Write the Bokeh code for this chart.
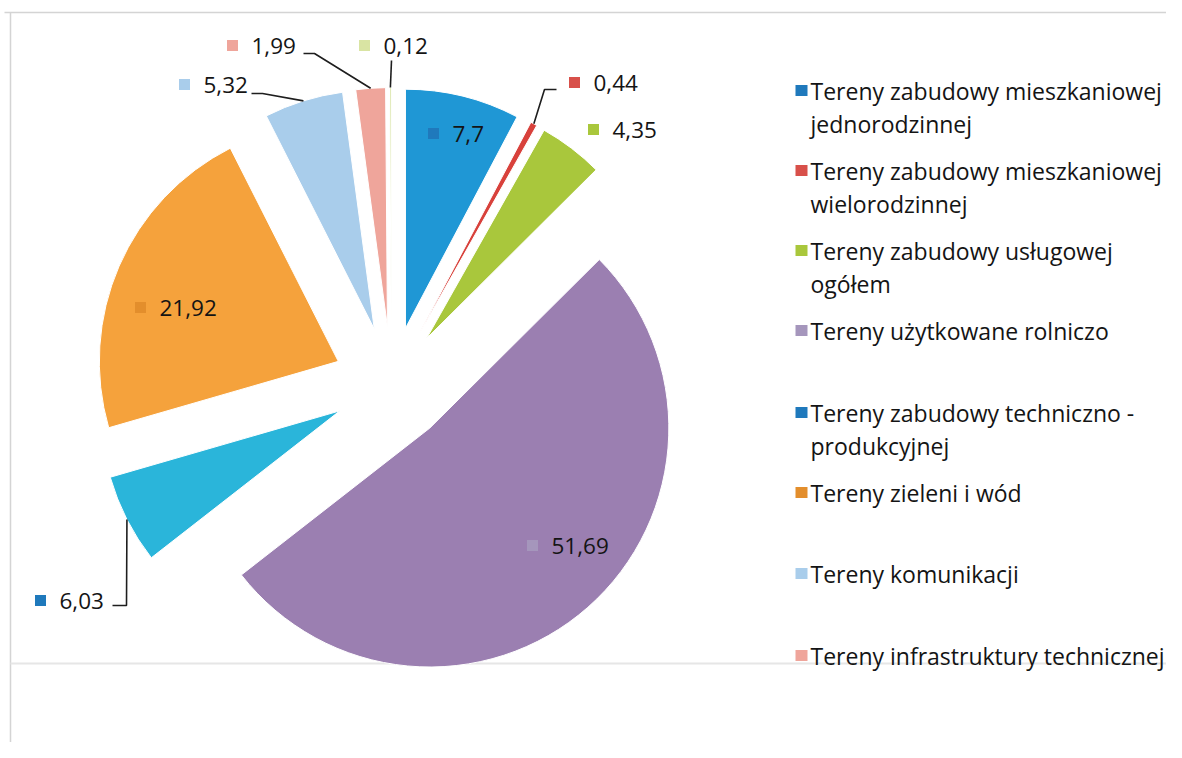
import math
from bokeh.plotting import figure
from bokeh.models import Range1d
from bokeh.core.properties import value
from bokeh.embed import file_html
from bokeh.resources import INLINE

# ---- data ----
categories = [
    "Tereny zabudowy mieszkaniowej\njednorodzinnej",
    "Tereny zabudowy mieszkaniowej\nwielorodzinnej",
    "Tereny zabudowy usługowej\nogółem",
    "Tereny użytkowane rolniczo",
    "Tereny zabudowy techniczno -\nprodukcyjnej",
    "Tereny zieleni i wód",
    "Tereny komunikacji",
    "Tereny infrastruktury technicznej",
    "Inne",
]
values = [7.7, 0.44, 4.35, 51.69, 6.03, 21.92, 5.32, 1.99, 0.12]
legend_count = 8  # the ninth legend entry is cut off in the original

# ---- style ----
colors = ["#1F97D5", "#D8413B", "#A9C73C", "#9B7FB1", "#2AB5DA",
          "#F5A23C", "#A9CDEB", "#EFA59B", "#D9E4A3"]
key_colors = ["#1F79BC", "#D8504A", "#A9C73C", "#A596BC", "#1F79BC",
              "#E38E2C", "#A9CDEB", "#EFA59B", "#D9E4A3"]

W, H = 1166, 742
# screen coordinates: data x = screen x, data y = -screen y
p = figure(width=W, height=H, output_backend="svg", toolbar_location=None,
           x_range=Range1d(0, W), y_range=Range1d(-H, 0),
           min_border=0, outline_line_color=None)
p.axis.visible = False
p.grid.visible = False
p.background_fill_color = "white"
p.border_fill_color = "white"

# faint chart-area frame lines of the scanned page
p.segment(x0=[4, 10, 10], y0=[-12, -12, -663], x1=[1182, 10, 1182], y1=[-12, -758, -663],
          line_color=["#d4d4d4", "#d4d4d4", "#e6e6e6"], line_width=[1.5, 1.5, 2])

# ---- exploded pie ----
cx, cy = 391, -384
radius = 239
explode = 58
total = sum(values)
cum = 0.0
wx, wy, sa, ea, mids = [], [], [], [], []
for v in values:
    a0 = math.pi / 2 - 2 * math.pi * cum / total
    a1 = math.pi / 2 - 2 * math.pi * (cum + v) / total
    m = (a0 + a1) / 2
    wx.append(cx + explode * math.cos(m))
    wy.append(cy + explode * math.sin(m))
    sa.append(a0)
    ea.append(a1)
    mids.append(m)
    cum += v

p.wedge(x=wx, y=wy, radius=radius, start_angle=sa, end_angle=ea, direction="clock",
        fill_color=colors, line_color="white", line_width=1)

# ---- data labels (positions as laid out in the original) ----
lab_x = [452, 593, 612, 551, 59, 159, 203, 251, 383]
lab_y = [133, 82, 129, 545, 600, 307, 84, 45, 45]
labels = [f"{v}".replace(".", ",") for v in values]
p.rect(x=[x - 19 for x in lab_x], y=[-y for y in lab_y], width=11, height=11,
       fill_color=key_colors, line_color=None)
p.text(x=lab_x, y=[-y for y in lab_y], text=labels, text_baseline="middle",
       text_align="left", text_font=value("Open Sans"), text_font_size="22.5px",
       text_color="#141414")

# leader lines: label anchor -> slice outer edge
leaders = {1: (556, 89), 4: (112, 605), 6: (251, 93), 7: (303, 53), 8: (391, 60)}
bend = {1: (544, 89), 4: (126, 605), 6: (262, 93), 7: (314, 53), 8: (391, 60)}
for i, (sx, sy) in leaders.items():
    ox = wx[i] + radius * math.cos(mids[i])
    oy = wy[i] + radius * math.sin(mids[i])
    bx, by = bend[i]
    p.line(x=[sx, bx, ox], y=[-sy, -by, oy], line_color="#1e1e1e", line_width=1.6)

# ---- legend ----
leg_y = [90, 170, 250, 330, 412, 492, 573, 655]
for i in range(legend_count):
    lines = categories[i].split("\n")
    p.rect(x=[801], y=[-leg_y[i]], width=12, height=11,
           fill_color=key_colors[i], line_color=None)
    p.text(x=[810] * len(lines), y=[-(leg_y[i] + 33 * k) for k in range(len(lines))],
           text=lines, text_baseline="middle", text_align="left",
           text_font=value("Open Sans"), text_font_size="23px", text_color="#141414")

open("out.html", "w").write(file_html(p, INLINE))
